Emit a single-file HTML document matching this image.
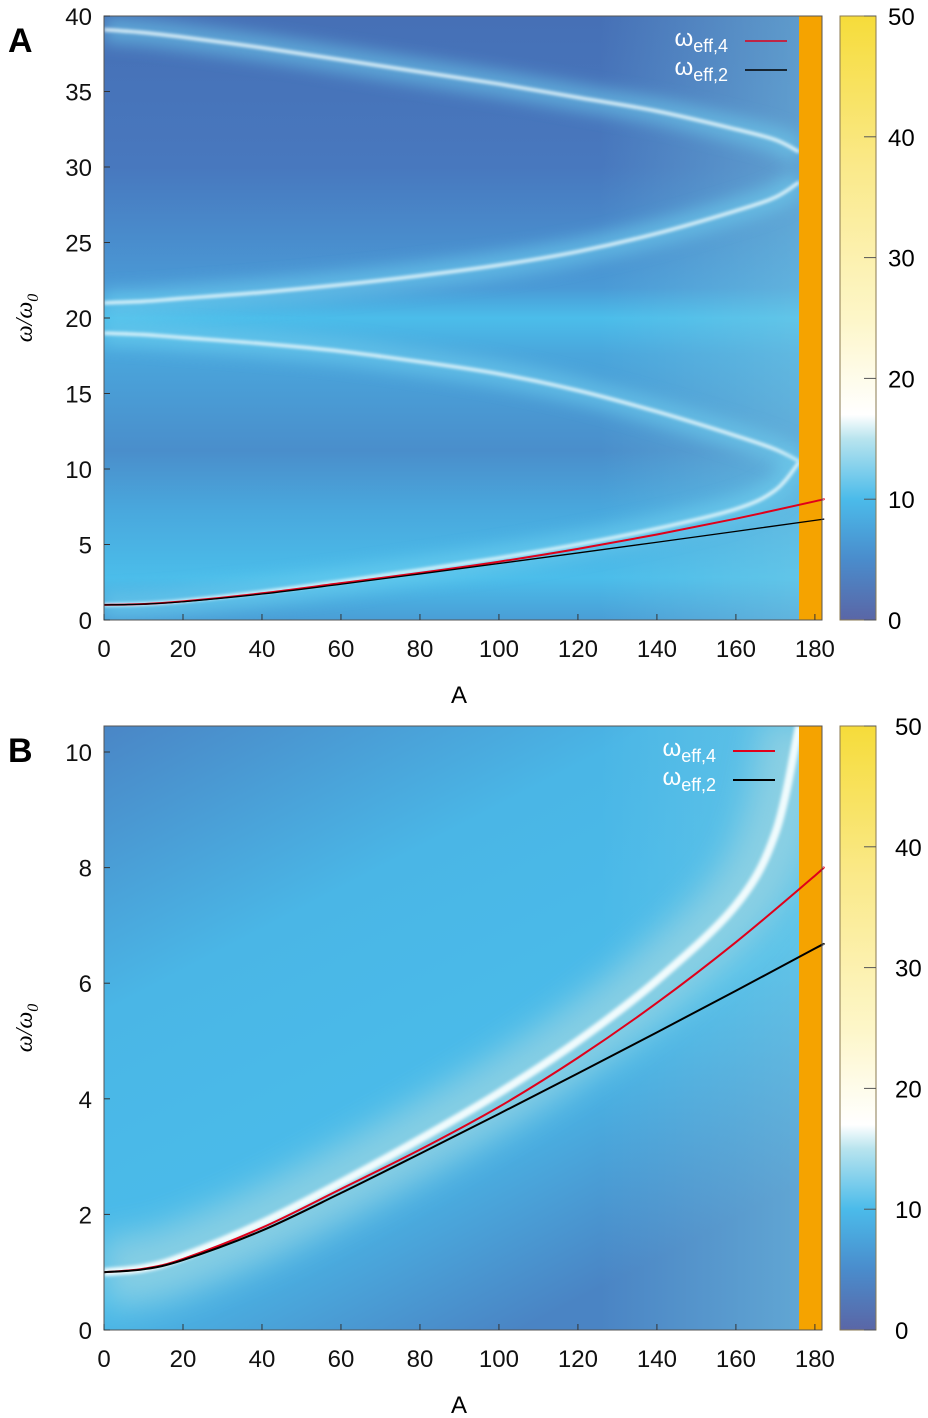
<!DOCTYPE html>
<html><head><meta charset="utf-8"><style>
body{margin:0;background:#fff;font-family:"Liberation Sans",sans-serif}
svg{display:block}
</style></head><body>
<svg id="fig" width="928" height="1418" viewBox="0 0 928 1418" xmlns="http://www.w3.org/2000/svg">
<defs>
<linearGradient id="bgA" x1="0" y1="0" x2="0" y2="1">
<stop offset="0" stop-color="#4670b6"/><stop offset="0.25" stop-color="#4878be"/>
<stop offset="0.45" stop-color="#4a9ad6"/><stop offset="0.5" stop-color="#4bbdea"/>
<stop offset="0.56" stop-color="#4aa6dc"/><stop offset="0.72" stop-color="#4a8ecb"/>
<stop offset="0.82" stop-color="#49a8dd"/><stop offset="0.93" stop-color="#4bbdea"/>
<stop offset="1" stop-color="#4a9ed6"/></linearGradient>
<linearGradient id="bgB" x1="0" y1="0" x2="0.6" y2="1">
<stop offset="0" stop-color="#4a86c6"/><stop offset="0.35" stop-color="#4ab6e6"/>
<stop offset="0.7" stop-color="#4abcea"/><stop offset="1" stop-color="#4a84c4"/></linearGradient>
<linearGradient id="rightA" x1="0" y1="0" x2="1" y2="0">
<stop offset="0" stop-color="#7ccfe6" stop-opacity="0"/><stop offset="1" stop-color="#7ccfe6" stop-opacity="0.45"/></linearGradient>
<linearGradient id="cb" x1="0" y1="1" x2="0" y2="0">
<stop offset="0" stop-color="#5a66a6"/><stop offset="0.1" stop-color="#4a8ccc"/>
<stop offset="0.2" stop-color="#4bbbea"/><stop offset="0.3" stop-color="#b8e4ee"/>
<stop offset="0.34" stop-color="#ffffff"/><stop offset="0.5" stop-color="#fdf6c8"/>
<stop offset="0.75" stop-color="#fae98a"/><stop offset="1" stop-color="#f6dc3a"/></linearGradient>
<filter id="blur8" x="-20%" y="-20%" width="140%" height="140%"><feGaussianBlur stdDeviation="8"/></filter>
<filter id="blur16" x="-20%" y="-20%" width="140%" height="140%"><feGaussianBlur stdDeviation="16"/></filter>
<filter id="blur3" x="-20%" y="-20%" width="140%" height="140%"><feGaussianBlur stdDeviation="1.5"/></filter>
<clipPath id="clipA"><rect x="104" y="16" width="695" height="604"/></clipPath>
<clipPath id="clipB"><rect x="104" y="726" width="695" height="604"/></clipPath>
</defs>
<g id="pA"></g><g id="pB"></g>
</svg>
<script>
const NS="http://www.w3.org/2000/svg";
const bandA=[0,10,20,40,60,80,100,120,140,160,170,176];
const arcTop=[39.1,38.9,38.6,37.9,37.1,36.3,35.5,34.6,33.7,32.5,31.8,31.0];
const arcUpper=[21,21.1,21.3,21.7,22.2,22.8,23.5,24.4,25.6,27.1,28.0,29.0];
const arcMiddle=[19,18.9,18.7,18.3,17.8,17.1,16.3,15.2,13.8,12.2,11.3,10.5];
const arcLow=[1,1.07,1.27,1.85,2.55,3.3,4.1,5.0,6.05,7.35,8.6,10.45];
const curveA=[0,10,20,40,60,80,100,120,140,160,180,182];
const weff4=[1,1.06,1.23,1.77,2.44,3.12,3.86,4.71,5.66,6.71,7.86,8.0];
const weff2=[1,1.05,1.21,1.72,2.37,3.05,3.74,4.44,5.15,5.87,6.6,6.67];
const xTicks=[0,20,40,60,80,100,120,140,160,180];
const yTicksA=[0,5,10,15,20,25,30,35,40];
const yTicksB=[0,2,4,6,8,10];
const cbTicks=[0,10,20,30,40,50];
function el(t,a,p){const e=document.createElementNS(NS,t);for(const k in a)e.setAttribute(k,a[k]);p.appendChild(e);return e;}
function path(xs,ys,sx,sy){const P=xs.map((x,i)=>[sx(x),sy(ys[i])]);let d="M"+P[0][0]+","+P[0][1];
for(let i=0;i<P.length-1;i++){const p0=P[Math.max(0,i-1)],p1=P[i],p2=P[i+1],p3=P[Math.min(P.length-1,i+2)];
d+=" C"+(p1[0]+(p2[0]-p0[0])/6)+","+(p1[1]+(p2[1]-p0[1])/6)+" "+(p2[0]-(p3[0]-p1[0])/6)+","+(p2[1]-(p3[1]-p1[1])/6)+" "+p2[0]+","+p2[1];}return d;}
function panel(g,top,ymax,yTicks,label,bands,bg,clip,lx){
 const L=104,R=822,B=top+604,sx=a=>L+(a/181.8)*(R-L),sy=v=>B-v/ymax*604;
 const isA=ymax>20;
 const hm=el('g',{'clip-path':'url(#'+clip+')'},g);
 
 el('rect',{x:L,y:top,width:695,height:604,fill:'url(#'+bg+')'},hm);
 el('rect',{x:600,y:top,width:199,height:604,fill:'url(#rightA)'},hm);
 bands.forEach(b=>{
  const d=path(bandA,b,sx,sy);
  const glow=el('path',{d:d,fill:'none',stroke:isA?'#6fd0ef':'#9ad4e2',"stroke-width":isA?26:70,opacity:isA?0.55:0.75,filter:isA?'url(#blur8)':'url(#blur16)'},hm);
  
  const line=el('path',{d:d,fill:'none',stroke:'#f0fbfd',"stroke-width":isA?3:8,filter:'url(#blur3)'},hm);
  
 });
 const orb=el('rect',{x:799,y:top,width:23,height:604,fill:'#f5a300'},g);
 
 const cA=el('path',{d:path(curveA,weff4,sx,sy),fill:'none',stroke:'#e0001a','stroke-width':2},g);
 
 const cB=el('path',{d:path(curveA,weff2,sx,sy),fill:'none',stroke:'#000','stroke-width':isA?1.3:2},g);
 
 el('rect',{x:L,y:top,width:R-L,height:604,fill:'none',stroke:'#555','stroke-width':1},g);
 xTicks.forEach(t=>{const x=sx(t);el('line',{x1:x,x2:x,y1:B,y2:B-6,stroke:'#333'},g);
  const tx=el('text',{x:x,y:B+37,'text-anchor':'middle','font-size':24,fill:'#111'},g);tx.textContent=t;
  });
 yTicks.forEach(t=>{const y=sy(t);el('line',{x1:L,x2:L+6,y1:y,y2:y,stroke:'#333'},g);
  const tx=el('text',{x:L-12,y:y+9,'text-anchor':'end','font-size':24,fill:'#111'},g);tx.textContent=t;
  });
 const xl=el('text',{x:459,y:B+83,'text-anchor':'middle','font-size':24},g);xl.textContent='A';
 
 const yl=el('text',{transform:'translate(32,'+(top+302)+') rotate(-90)','text-anchor':'middle','font-size':24,'font-family':'Liberation Serif','font-style':'italic'},g);
 yl.innerHTML='ω/ω<tspan font-size="16" dy="6">0</tspan>';
 
 const pl=el('text',{x:8,y:top+36,'font-size':34,'font-weight':'bold'},g);pl.textContent=label;
 
 const lg=el('g',{},g);
 [['4','#e0001a',0],['2','#000',29]].forEach(([n,c,dy])=>{
  const t=el('text',{x:lx,y:top+30+dy,'text-anchor':'end','font-size':24,fill:'#fff'},lg);
  t.innerHTML='ω<tspan font-size="18" dy="6">eff,'+n+'</tspan>';
  
  el('line',{x1:lx+17,x2:lx+59,y1:top+25+dy,y2:top+25+dy,stroke:c,'stroke-width':isA?1.5:2},lg);});
 const cb=el('g',{},g);
 el('rect',{x:840,y:top,width:36,height:604,fill:'url(#cb)',stroke:'#8a7a50','stroke-width':1},cb);
 cbTicks.forEach(t=>{const y=B-t/50*604;el('line',{x1:864,x2:876,y1:y,y2:y,stroke:'#555'},cb);
  const tx=el('text',{x:isA?888:895,y:y+9,'font-size':24},cb);tx.textContent=t;
  });
}
panel(document.getElementById('pA'),16,40,yTicksA,'A',[arcTop,arcUpper,arcMiddle,arcLow],'bgA','clipA',728);
panel(document.getElementById('pB'),726,10.45,yTicksB,'B',[arcLow],'bgB','clipB',716);
</script>
</body></html>
